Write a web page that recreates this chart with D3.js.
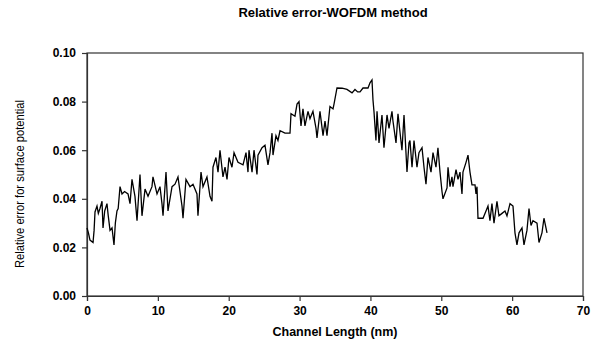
<!DOCTYPE html>
<html lang="en">
<head>
    <meta charset="UTF-8">
    <title>Relative error-WOFDM method</title>
    <script src="https://d3js.org/d3.v7.min.js"></script>
    <style>
        body { margin: 0; background: #fff; }
        text { font-family: "Liberation Sans", Arial, sans-serif; }
    </style>
</head>
<body>
    <script>
        // channel position (nm) and relative error
        var channel_nm = [0, 0.2, 0.42, 0.85, 1.0, 1.13, 1.41, 1.6, 1.83, 2.12, 2.26, 2.5, 2.82, 3.0, 3.25, 3.53, 3.81, 4.0, 4.23, 4.4,
            4.66, 4.94, 5.3, 5.79, 6.07, 6.35, 6.77, 7.06, 7.48, 7.76, 8.19, 8.61, 9.17, 9.31, 9.88, 10.3, 10.58, 10.73, 11.15, 11.43,
            12.0, 12.42, 12.84, 13.41, 13.55, 13.97, 14.54, 14.96, 15.52, 15.66, 16.09, 16.37, 16.93, 17.36, 17.64, 17.78, 18.2, 18.49, 18.77, 19.19,
            19.48, 19.76, 20.04, 20.46, 20.75, 21.31, 22.02, 22.44, 22.72, 22.86, 23.29, 23.57, 23.99, 24.13, 24.7, 25.12, 25.54, 25.83, 26.11, 26.25,
            26.67, 26.95, 27.24, 27.94, 28.65, 28.79, 29.35, 29.64, 29.92, 30.2, 30.48, 30.76, 31.19, 31.47, 31.89, 32.32, 32.46, 32.88, 33.31, 33.59,
            33.87, 34.29, 34.72, 34.86, 35.28, 36.0, 36.69, 37.4, 37.82, 38.2, 38.53, 38.95, 39.66, 39.94, 40.22, 40.36, 40.5, 40.78, 40.93, 41.21,
            41.63, 41.91, 42.34, 42.62, 43.04, 43.18, 43.61, 43.89, 44.45, 44.74, 45.16, 45.44, 45.58, 45.87, 46.15, 46.57, 46.85, 47.28, 47.56, 47.84,
            48.12, 48.55, 48.83, 49.25, 49.53, 49.82, 50.1, 50.24, 50.81, 50.95, 51.23, 51.51, 51.65, 52.08, 52.36, 52.64, 52.92, 53.06, 53.49, 53.77,
            54.05, 54.33, 54.76, 54.9, 55.04, 55.18, 55.89, 56.31, 56.59, 56.87, 57.15, 57.44, 57.86, 58.14, 58.57, 58.99, 59.27, 59.7, 60.12, 60.4,
            60.68, 60.97, 61.39, 61.67, 62.09, 62.38, 62.66, 62.94, 63.51, 63.79, 64.21, 64.49, 64.92];
        var rel_error = [0.028, 0.026, 0.023, 0.022, 0.027, 0.0346, 0.037, 0.034, 0.036, 0.039, 0.028, 0.035, 0.038, 0.033, 0.027, 0.028, 0.021, 0.030, 0.035, 0.036,
            0.045, 0.042, 0.043, 0.042, 0.038, 0.048, 0.041, 0.031, 0.050, 0.033, 0.044, 0.041, 0.045, 0.049, 0.042, 0.045, 0.038, 0.033, 0.051, 0.035,
            0.045, 0.046, 0.049, 0.037, 0.032, 0.048, 0.045, 0.046, 0.042, 0.033, 0.051, 0.045, 0.049, 0.041, 0.039, 0.053, 0.057, 0.051, 0.060, 0.049,
            0.053, 0.048, 0.057, 0.053, 0.059, 0.055, 0.054, 0.059, 0.051, 0.060, 0.051, 0.060, 0.050, 0.058, 0.061, 0.062, 0.054, 0.059, 0.067, 0.058,
            0.066, 0.064, 0.068, 0.067, 0.067, 0.075, 0.074, 0.079, 0.080, 0.070, 0.077, 0.070, 0.076, 0.073, 0.076, 0.069, 0.065, 0.076, 0.066, 0.072,
            0.066, 0.078, 0.077, 0.079, 0.0856, 0.0855, 0.085, 0.0836, 0.085, 0.084, 0.084, 0.0856, 0.0856, 0.0877, 0.0889, 0.0807, 0.076, 0.064, 0.076, 0.063,
            0.0745, 0.061, 0.0745, 0.069, 0.076, 0.072, 0.063, 0.075, 0.060, 0.0745, 0.051, 0.063, 0.064, 0.053, 0.064, 0.053, 0.059, 0.061, 0.053, 0.046,
            0.057, 0.051, 0.059, 0.053, 0.061, 0.051, 0.043, 0.040, 0.0445, 0.053, 0.045, 0.049, 0.045, 0.052, 0.048, 0.051, 0.042, 0.051, 0.055, 0.058,
            0.051, 0.0457, 0.0457, 0.042, 0.045, 0.032, 0.032, 0.035, 0.037, 0.031, 0.038, 0.030, 0.039, 0.033, 0.034, 0.035, 0.033, 0.038, 0.037, 0.026,
            0.021, 0.026, 0.028, 0.021, 0.027, 0.036, 0.029, 0.031, 0.030, 0.022, 0.026, 0.032, 0.026];

        var x_ticks = [0, 10, 20, 30, 40, 50, 60, 70];
        var y_ticks = [0, 0.02, 0.04, 0.06, 0.08, 0.10];

        var width = 597, height = 345;
        var plot_left = 87, plot_right = 583, plot_top = 53, plot_bottom = 296;

        var svg = d3.select('body').append('svg')
            .attr('width', width)
            .attr('height', height);

        var x = d3.scaleLinear().domain([0, 70]).range([plot_left, plot_right]);
        var y = d3.scaleLinear().domain([0, 0.10]).range([plot_bottom, plot_top]);

        // frame (top and right, no ticks)
        svg.append('rect')
            .attr('x', plot_left).attr('y', plot_top)
            .attr('width', plot_right - plot_left).attr('height', plot_bottom - plot_top)
            .attr('fill', 'none').attr('stroke', '#333').attr('stroke-width', 1.2);

        var x_axis = svg.append('g')
            .attr('transform', 'translate(0,' + plot_bottom + ')')
            .call(d3.axisBottom(x).tickValues(x_ticks).tickSize(5).tickPadding(5).tickFormat(d3.format('d')));

        var y_axis = svg.append('g')
            .attr('transform', 'translate(' + plot_left + ',0)')
            .call(d3.axisLeft(y).tickValues(y_ticks).tickSize(5).tickPadding(6).tickFormat(d3.format('.2f')));

        [x_axis, y_axis].forEach(function (g) {
            g.select('.domain').attr('stroke', '#333').attr('stroke-width', 1.2);
            g.selectAll('line').attr('stroke', '#333').attr('stroke-width', 1.2);
            g.selectAll('text')
                .attr('fill', '#000')
                .style('font-size', '12px')
                .style('font-weight', 'bold')
                .style('font-family', '"Liberation Sans", Arial, sans-serif');
        });

        var pts = channel_nm.map(function (d, i) { return [d, rel_error[i]]; });

        var line = d3.line()
            .x(function (d) { return x(d[0]); })
            .y(function (d) { return y(d[1]); });

        svg.append('path')
            .datum(pts)
            .attr('d', line)
            .attr('fill', 'none')
            .attr('stroke', '#000')
            .attr('stroke-width', 1.3)
            .attr('stroke-linejoin', 'miter');

        // titles
        svg.append('text')
            .attr('x', 333).attr('y', 17)
            .attr('text-anchor', 'middle')
            .style('font-size', '13px')
            .style('font-weight', 'bold')
            .text('Relative error-WOFDM method');

        svg.append('text')
            .attr('x', 335).attr('y', 336)
            .attr('text-anchor', 'middle')
            .style('font-size', '12.5px')
            .style('font-weight', 'bold')
            .text('Channel Length (nm)');

        svg.append('text')
            .attr('transform', 'translate(24,' + 184 + ') rotate(-90)')
            .attr('text-anchor', 'middle')
            .attr('textLength', 168)
            .attr('lengthAdjust', 'spacingAndGlyphs')
            .style('font-size', '12px')
            .text('Relative error for surface potential');
    </script>
</body>
</html>
